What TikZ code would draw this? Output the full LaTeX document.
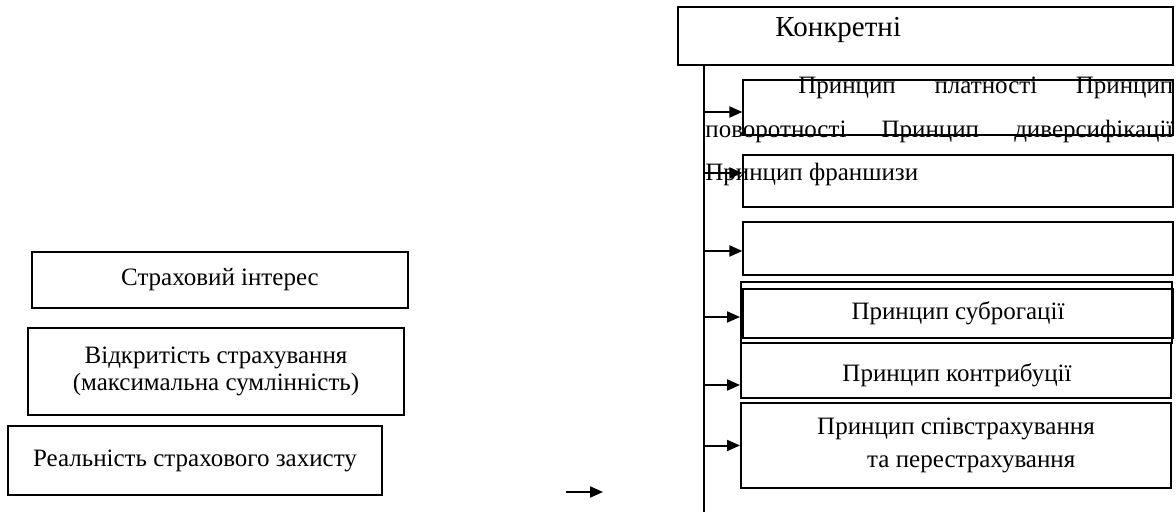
\documentclass[tikz,border=0pt]{standalone}
\usepackage{fontspec}
\setmainfont{Liberation Serif}
\usetikzlibrary{arrows.meta}
\newcommand{\twelve}{\fontsize{12.5pt}{13.5pt}\selectfont}
\newcommand{\fourteen}{\fontsize{14.5pt}{16pt}\selectfont}

\begin{document}
\begin{tikzpicture}[x=0.5pt,y=-0.5pt,
    thinbox/.style={draw=black, line width=0.6pt, inner sep=0pt, align=center, font=\twelve},
    thickbox/.style={draw=black, line width=1pt, inner sep=0pt, align=center, font=\twelve},
    feed/.style={draw=black, line width=1pt, -{Triangle[length=6.5pt,width=5.5pt]}}]
    \useasboundingbox (0,0) rectangle (1176,512);
    % left column
    \node [thinbox, minimum width=188pt, minimum height=28pt] (interes) at (220,280) {Страховий інтерес};
    \node [thinbox, minimum width=188pt, minimum height=43.5pt] (vidkryt) at (216,371.5) {Відкритість страхування\\(максимальна сумлінність)};
    \node [thinbox, minimum width=187pt, minimum height=34.5pt] (realn) at (195,460.5) {Реальність страхового захисту};
    \coordinate (lonefrom) at (566,492);
    \coordinate (loneto) at (603,492);
    \draw [feed] (lonefrom) -- (loneto);
    % right column
    \node [thickbox, minimum width=247.5pt, minimum height=29pt] (konkr) at (925.5,36) {};
    \node [anchor=base west, inner sep=0pt, font=\fourteen] (konkrtxt) at (775,37) {Конкретні};
    \node [thinbox, minimum width=215pt, minimum height=27.5pt] (platn) at (958,107.5) {};
    \node [thinbox, minimum width=215pt, minimum height=26pt] (fransh) at (958,181) {};
    \node [thinbox, minimum width=215pt, minimum height=26.5pt] (porozh) at (958,248.5) {};
    \node [thickbox, minimum width=215.5pt, minimum height=30.5pt] (subrog) at (956.5,312.5) {};
    \node [thickbox, minimum width=215pt, minimum height=24.5pt] (subroginner) at (958,313.5) {Принцип суброгації};
    \node [thickbox, minimum width=215pt, minimum height=27.5pt] (kontr) at (956,370.5) {};
    \node [inner sep=0pt, font=\twelve] (kontrtxt) at (957,375) {Принцип контрибуції};
    \node [thickbox, minimum width=215pt, minimum height=42.5pt, align=left,
           font=\fontsize{12.5pt}{16.5pt}\selectfont] (spivstr) at (956,445.5) {Принцип співстрахування\\\hspace*{25pt}та перестрахування};
    \node [anchor=north west, inner sep=0pt, text width=234pt, align=justify,
           font=\fontsize{12.5pt}{21.75pt}\selectfont] (platntxt) at (705,77)
          {\hspace*{46.5pt}Принцип платності Принцип\linebreak поворотності Принцип диверсифікації\linebreak Принцип франшизи};
    \coordinate (trunk) at (704,65);
    \coordinate (trunkend) at (704,512);
    \draw [line width=1pt] (trunk) -- (trunkend);
    \draw [feed] ([yshift=-2.25pt]platn.west -| trunk) -- ([yshift=-2.25pt]platn.west);
    \draw [feed] ([yshift=4pt]fransh.west -| trunk) -- ([yshift=4pt]fransh.west);
    \draw [feed] ([yshift=-1.25pt]porozh.west -| trunk) -- ([yshift=-1.25pt]porozh.west);
    \draw [feed] ([yshift=-2.25pt]subrog.west -| trunk) -- ([yshift=-2.25pt]subrog.west);
    \draw [feed] ([yshift=-7.25pt]kontr.west -| trunk) -- ([yshift=-7.25pt]kontr.west);
    \draw [feed] (spivstr.west -| trunk) -- (spivstr.west);
\end{tikzpicture}
\end{document}
